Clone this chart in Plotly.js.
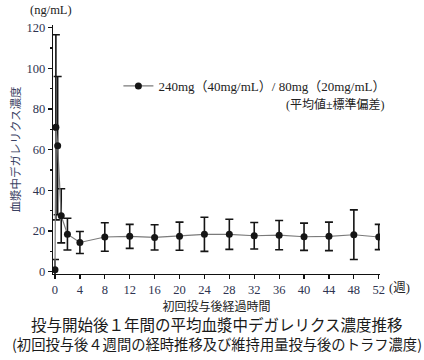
<!DOCTYPE html>
<html>
<head>
<meta charset="utf-8">
<script src="https://cdn.plot.ly/plotly-3.0.1.min.js"></script>
<style>html,body{margin:0;padding:0;background:#fff;}#chart{width:424px;height:360px;}</style>
</head>
<body>
<div id="chart"></div>
<script>
// Time after first dose (weeks): day 0, day 1, day 3, week 1, 2, 4, 8 ... 52
const weeks = [0, 1/7, 3/7, 1, 2, 4, 8, 12, 16, 20, 24, 28, 32, 36, 40, 44, 48, 52];
// Mean plasma degarelix concentration (ng/mL)
const meanConc = [1, 71, 62, 27.5, 18.5, 14.4, 17.1, 17.4, 16.9, 17.5, 18.4, 18.4, 17.7, 18.0, 17.2, 17.4, 18.2, 17.1];
// Standard deviation (ng/mL)
const sdConc = [5, 45.5, 34, 13.3, 7.8, 5.4, 7.0, 5.9, 6.2, 6.9, 8.4, 7.4, 6.5, 7.2, 6.7, 7.0, 12.2, 6.2];
const xTicks = [0, 4, 8, 12, 16, 20, 24, 28, 32, 36, 40, 44, 48, 52];
const yTicks = [0, 20, 40, 60, 80, 100, 120];
const seriesName = '240mg（40mg/mL）/ 80mg（20mg/mL）';

const serif = 'Liberation Serif, Noto Sans CJK JP, serif';
const tickColor = '#2e3350';

const trace = {
  x: weeks, y: meanConc,
  type: 'scatter', mode: 'lines+markers',
  name: seriesName,
  line: {color: '#7a7a7a', width: 1.2},
  marker: {color: '#151515', size: 7, symbol: 'circle'},
  error_y: {type: 'data', array: sdConc, visible: true, color: '#151515', thickness: 1.6, width: 4}
};

const layout = {
  width: 424, height: 360,
  margin: {l: 53, r: 44, t: 25, b: 86},
  paper_bgcolor: '#fff', plot_bgcolor: '#fff',
  font: {family: serif, color: tickColor, size: 12},
  showlegend: true,
  legend: {x: 0.2, y: 0.755, xanchor: 'left', yanchor: 'middle', bgcolor: 'rgba(0,0,0,0)',
           font: {family: serif, size: 13, color: '#222'}},
  xaxis: {
    range: [-0.32, 52.2], tickmode: 'array', tickvals: xTicks, ticktext: xTicks.map(String),
    showgrid: false, zeroline: false, showline: true, linecolor: '#111', linewidth: 1.2,
    ticks: 'outside', ticklen: 4, tickcolor: '#111', tickwidth: 1.2,
    tickfont: {family: serif, size: 12.5, color: tickColor},
    title: {text: '初回投与後経過時間', font: {family: 'Noto Sans CJK JP', size: 12, color: '#222'}, standoff: 6}
  },
  yaxis: {
    range: [-1.1, 121.3], tickmode: 'array', tickvals: yTicks, ticktext: yTicks.map(String),
    showgrid: false, zeroline: false, showline: true, linecolor: '#111', linewidth: 1.2,
    ticks: 'outside', ticklen: 4, tickcolor: '#111', tickwidth: 1.2,
    minor: {dtick: 10, ticks: 'outside', ticklen: 2, tickcolor: '#111', showgrid: false},
    tickfont: {family: serif, size: 12.5, color: tickColor},
    title: {text: '血漿中デガレリクス濃度', font: {family: 'Noto Sans CJK JP', size: 11.5, color: '#3a4263'}, standoff: 3}
  },
  annotations: [
    {text: '(ng/mL)', xref: 'paper', yref: 'paper', x: -0.005, y: 1.06, xanchor: 'center', yanchor: 'middle',
     showarrow: false, font: {family: serif, size: 12.5, color: '#222'}},
    {text: '(週)', xref: 'paper', yref: 'paper', x: 1.022, y: -0.056, xanchor: 'left', yanchor: 'middle',
     showarrow: false, font: {family: serif, size: 12.5, color: '#222'}},
    {text: '(平均値±標準偏差)', xref: 'paper', yref: 'paper', x: 1.02, y: 0.68, xanchor: 'right', yanchor: 'middle',
     showarrow: false, font: {family: serif, size: 12, color: '#222'}},
    {text: '投与開始後１年間の平均血漿中デガレリクス濃度推移', xref: 'paper', yref: 'paper', x: 0.5, y: -0.2,
     xanchor: 'center', yanchor: 'middle', showarrow: false,
     font: {family: 'Noto Sans CJK JP', size: 15.5, color: '#1a1a1a'}},
    {text: '(初回投与後４週間の経時推移及び維持用量投与後のトラフ濃度)', xref: 'paper', yref: 'paper', x: 0.5, y: -0.28,
     xanchor: 'center', yanchor: 'middle', showarrow: false,
     font: {family: 'Noto Sans CJK JP', size: 14.3, color: '#1a1a1a'}}
  ]
};

Plotly.newPlot('chart', [trace], layout, {displayModeBar: false, staticPlot: true});
</script>
</body>
</html>
